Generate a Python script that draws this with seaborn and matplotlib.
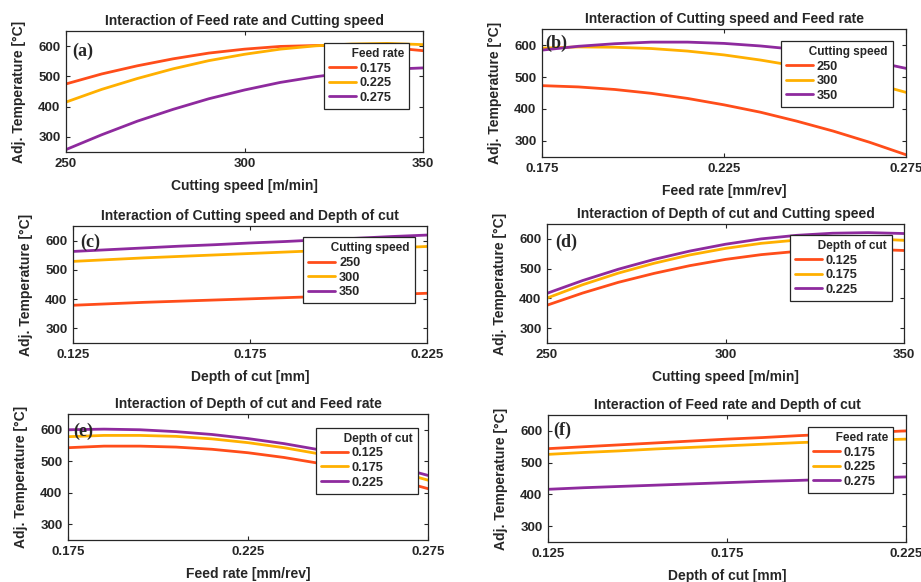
import numpy as np
import pandas as pd
import matplotlib
matplotlib.use('Agg')
import matplotlib.pyplot as plt
import seaborn as sns

# x levels
speed = [250, 260, 270, 280, 290, 300, 310, 320, 330, 340, 350]
feed = [0.175, 0.185, 0.195, 0.205, 0.215, 0.225, 0.235, 0.245, 0.255, 0.265, 0.275]
doc = [0.125, 0.135, 0.145, 0.155, 0.165, 0.175, 0.185, 0.195, 0.205, 0.215, 0.225]

feed_levels = ['0.175', '0.225', '0.275']
speed_levels = ['250', '300', '350']
doc_levels = ['0.125', '0.175', '0.225']

# (a) temperature vs cutting speed, per feed rate
a_f175 = [475, 508, 535, 558, 577, 590, 599, 602, 601, 596, 585]
a_f225 = [415, 457, 493, 525, 552, 573, 590, 601, 607, 609, 605]
a_f275 = [258, 307, 352, 391, 426, 455, 480, 499, 514, 523, 528]

# (b) vs feed rate, per cutting speed
b_s250 = [473, 469, 461, 449, 433, 413, 390, 362, 331, 296, 257]
b_s300 = [590, 594, 593, 589, 581, 569, 553, 534, 510, 483, 452]
b_s350 = [584, 596, 604, 609, 609, 605, 597, 586, 570, 551, 527]

# (c) vs depth of cut, per cutting speed
c_s250 = [379, 384, 389, 393, 397, 401, 405, 409, 413, 416, 420]
c_s300 = [529, 535, 541, 546, 551, 556, 561, 566, 571, 575, 580]
c_s350 = [563, 569, 575, 581, 586, 592, 597, 603, 608, 614, 619]

# (d) vs cutting speed, per depth of cut
d_d125 = [377, 418, 454, 484, 510, 531, 547, 558, 564, 565, 561]
d_d175 = [401, 446, 485, 518, 546, 568, 585, 596, 601, 601, 595]
d_d225 = [417, 460, 498, 531, 559, 582, 600, 612, 619, 621, 618]

# (e) vs feed rate, per depth of cut
e_d125 = [543, 548, 548, 545, 538, 527, 512, 493, 470, 444, 413]
e_d175 = [578, 582, 582, 579, 571, 559, 543, 523, 500, 472, 440]
e_d225 = [600, 602, 600, 594, 585, 572, 556, 536, 513, 486, 455]

# (f) vs depth of cut, per feed rate
f_f175 = [544, 550, 556, 562, 568, 574, 579, 585, 590, 595, 600]
f_f225 = [526, 532, 537, 543, 548, 553, 558, 563, 567, 571, 574]
f_f275 = [416, 421, 425, 429, 433, 437, 441, 444, 448, 452, 455]

colors = ['#ff4d1a', '#ffb000', '#8e2a9e']
dark = '#262626'

sns.set_theme(style='white')
plt.rcParams['font.family'] = ['Liberation Sans', 'DejaVu Sans']
plt.rcParams['font.weight'] = 'bold'
plt.rcParams['axes.titleweight'] = 'bold'
plt.rcParams['axes.labelweight'] = 'bold'
plt.rcParams['text.color'] = dark

W, H = 921, 582
fig = plt.figure(figsize=(9.21, 5.82), dpi=100)


def panel(box, x, curves, levels, title, xlabel, leg_title, xtl, tag, tag_xy, leg_xy):
    l, r, t, b = box
    ax = fig.add_axes([l / W, 1 - b / H, (r - l) / W, (b - t) / H])
    df = pd.DataFrame({'x': np.tile(x, 3),
                       'temp': np.concatenate(curves),
                       'level': np.repeat(levels, len(x))})
    sns.lineplot(data=df, x='x', y='temp', hue='level', palette=colors,
                 linewidth=2, ax=ax)
    h, lab = ax.get_legend_handles_labels()
    ax.get_legend().remove()
    # matlab-style legend: entries on the left, title pushed to the right
    leg = ax.legend(h, lab, title=' ' * 7 + leg_title, loc='upper right',
                    bbox_to_anchor=leg_xy, borderaxespad=0, fancybox=False,
                    framealpha=1, edgecolor=dark, fontsize=9.2, title_fontsize=8.5,
                    handlelength=2.1, handletextpad=0.3, labelspacing=0.2,
                    borderpad=0.4, alignment='left')
    leg.get_frame().set_linewidth(0.9)
    for ln in leg.get_lines():
        ln.set_linewidth(2)

    ax.set_xlim(x[0], x[-1])
    ax.set_ylim(250, 650)
    ax.set_xticks([x[0], x[5], x[-1]])
    ax.set_xticklabels(xtl)
    ax.set_yticks([300, 400, 500, 600])
    ax.tick_params(direction='in', length=3, width=0.8, colors=dark, labelsize=9.5,
                   pad=4, top=True, right=True, bottom=True, left=True)
    for s in ax.spines.values():
        s.set_color(dark)
        s.set_linewidth(0.9)
    ax.set_title(title, fontsize=10, pad=4, color=dark)
    ax.set_xlabel(xlabel, fontsize=10, color=dark)
    ax.set_ylabel('Adj. Temperature [°C]', fontsize=10, color=dark)
    ax.xaxis.set_label_coords(0.5, -34 / (b - t))
    ax.xaxis.label.set_va('center')
    ax.yaxis.set_label_coords(-47 / (r - l), 0.5)
    ax.yaxis.label.set_va('center')
    ax.text(tag_xy[0], tag_xy[1], tag, transform=ax.transAxes, fontsize=13,
            family='Liberation Serif', weight='bold', color=dark, va='center', ha='left')
    return ax


panel((66, 423, 31, 152), speed, [a_f175, a_f225, a_f275], feed_levels,
      'Interaction of Feed rate and Cutting speed', 'Cutting speed [m/min]', 'Feed rate',
      ['250', '300', '350'], '(a)', (0.017, 0.83), (0.961, 0.90))
panel((542, 906, 29, 157), feed, [b_s250, b_s300, b_s350], speed_levels,
      'Interaction of Cutting speed and Feed rate', 'Feed rate [mm/rev]', 'Cutting speed',
      ['0.175', '0.225', '0.275'], '(b)', (0.008, 0.887), (0.964, 0.906))
panel((73, 427, 226, 343), doc, [c_s250, c_s300, c_s350], speed_levels,
      'Interaction of Cutting speed and Depth of cut', 'Depth of cut [mm]', 'Cutting speed',
      ['0.125', '0.175', '0.225'], '(c)', (0.02, 0.863), (0.966, 0.903))
panel((547, 904, 224, 343), speed, [d_d125, d_d175, d_d225], doc_levels,
      'Interaction of Depth of cut and Cutting speed', 'Cutting speed [m/min]', 'Depth of cut',
      ['250', '300', '350'], '(d)', (0.022, 0.845), (0.966, 0.908))
panel((68, 428, 414, 540), feed, [e_d125, e_d175, e_d225], doc_levels,
      'Interaction of Depth of cut and Feed rate', 'Feed rate [mm/rev]', 'Depth of cut',
      ['0.175', '0.225', '0.275'], '(e)', (0.014, 0.865), (0.972, 0.891))
panel((548, 906, 415, 542), doc, [f_f175, f_f225, f_f275], feed_levels,
      'Interaction of Feed rate and Depth of cut', 'Depth of cut [mm]', 'Feed rate',
      ['0.125', '0.175', '0.225'], '(f)', (0.014, 0.878), (0.964, 0.906))

fig.savefig('out.png', dpi=100, facecolor='white')
